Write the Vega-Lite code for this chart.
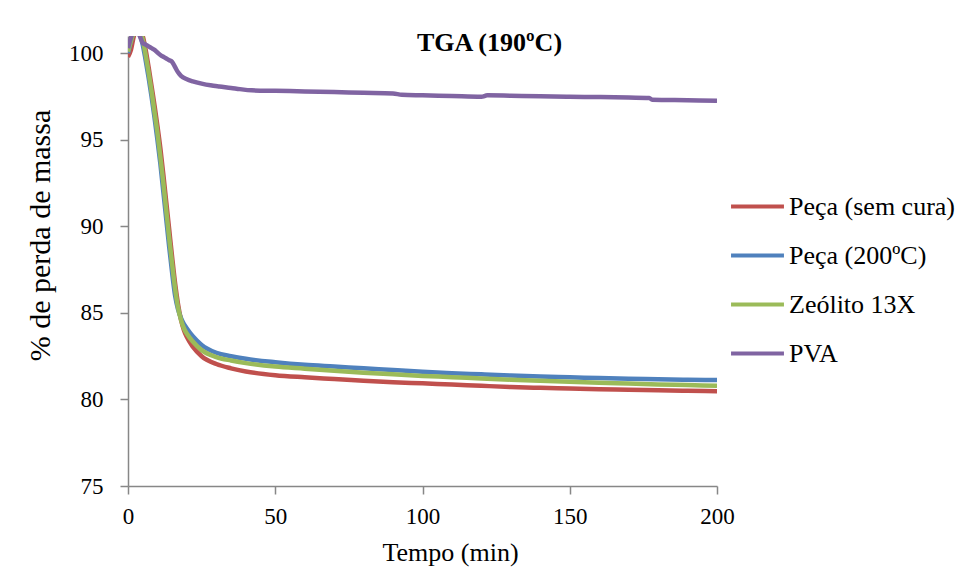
{
  "$schema": "https://vega.github.io/schema/vega-lite/v6.json",
  "autosize": {"type": "none"},
  "padding": {"left": 128, "top": 36, "right": 243, "bottom": 93},
  "width": 589,
  "height": 450,
  "background": "white",
  "config": {
    "font": "Liberation Serif",
    "view": {"stroke": null},
    "axis": {"grid": false, "labelFlush": false, "domainColor": "#878787", "domainWidth": 1.5, "tickColor": "#878787", "tickWidth": 1.5, "tickSize": 8, "labelFont": "Liberation Serif", "labelFontSize": 23, "labelColor": "black", "titleFont": "Liberation Serif", "titleFontSize": 26, "titleFontWeight": "normal", "titleColor": "black"},
    "legend": {"labelFont": "Liberation Serif"}
  },
  "title": {"text": "TGA (190ºC)", "font": "Liberation Serif", "fontSize": 26, "fontWeight": "bold", "color": "black", "anchor": "middle", "dx": 67, "offset": -20},
  "data": {"values": [
    {"s":"Peça (sem cura)","t":0,"v":99.8},{"s":"Peça (sem cura)","t":1,"v":100.2},{"s":"Peça (sem cura)","t":2,"v":101.0},{"s":"Peça (sem cura)","t":3,"v":101.4},{"s":"Peça (sem cura)","t":4,"v":101.4},{"s":"Peça (sem cura)","t":5,"v":101.0},{"s":"Peça (sem cura)","t":6,"v":100.2},{"s":"Peça (sem cura)","t":7,"v":99.2},{"s":"Peça (sem cura)","t":8,"v":98.1},{"s":"Peça (sem cura)","t":9,"v":97.0},{"s":"Peça (sem cura)","t":10,"v":95.8},{"s":"Peça (sem cura)","t":11,"v":94.5},{"s":"Peça (sem cura)","t":12,"v":93.0},{"s":"Peça (sem cura)","t":13,"v":91.4},{"s":"Peça (sem cura)","t":14,"v":89.8},{"s":"Peça (sem cura)","t":15,"v":88.2},{"s":"Peça (sem cura)","t":16,"v":86.7},{"s":"Peça (sem cura)","t":17,"v":85.5},{"s":"Peça (sem cura)","t":18,"v":84.6},{"s":"Peça (sem cura)","t":19,"v":84.0},{"s":"Peça (sem cura)","t":20,"v":83.6},{"s":"Peça (sem cura)","t":22,"v":83.05},{"s":"Peça (sem cura)","t":25,"v":82.5},{"s":"Peça (sem cura)","t":30,"v":82.05},{"s":"Peça (sem cura)","t":35,"v":81.8},{"s":"Peça (sem cura)","t":40,"v":81.62},{"s":"Peça (sem cura)","t":50,"v":81.4},{"s":"Peça (sem cura)","t":60,"v":81.28},{"s":"Peça (sem cura)","t":70,"v":81.18},{"s":"Peça (sem cura)","t":80,"v":81.08},{"s":"Peça (sem cura)","t":90,"v":81.0},{"s":"Peça (sem cura)","t":100,"v":80.93},{"s":"Peça (sem cura)","t":110,"v":80.86},{"s":"Peça (sem cura)","t":120,"v":80.79},{"s":"Peça (sem cura)","t":130,"v":80.72},{"s":"Peça (sem cura)","t":140,"v":80.67},{"s":"Peça (sem cura)","t":150,"v":80.63},{"s":"Peça (sem cura)","t":160,"v":80.59},{"s":"Peça (sem cura)","t":170,"v":80.56},{"s":"Peça (sem cura)","t":180,"v":80.53},{"s":"Peça (sem cura)","t":190,"v":80.5},{"s":"Peça (sem cura)","t":200,"v":80.48},
    {"s":"Peça (200ºC)","t":0,"v":100.0},{"s":"Peça (200ºC)","t":1,"v":100.7},{"s":"Peça (200ºC)","t":2,"v":101.2},{"s":"Peça (200ºC)","t":3,"v":101.3},{"s":"Peça (200ºC)","t":4,"v":101.1},{"s":"Peça (200ºC)","t":5,"v":100.5},{"s":"Peça (200ºC)","t":6,"v":99.6},{"s":"Peça (200ºC)","t":7,"v":98.6},{"s":"Peça (200ºC)","t":8,"v":97.5},{"s":"Peça (200ºC)","t":9,"v":96.3},{"s":"Peça (200ºC)","t":10,"v":95.0},{"s":"Peça (200ºC)","t":11,"v":93.6},{"s":"Peça (200ºC)","t":12,"v":92.0},{"s":"Peça (200ºC)","t":13,"v":90.4},{"s":"Peça (200ºC)","t":14,"v":88.8},{"s":"Peça (200ºC)","t":15,"v":87.3},{"s":"Peça (200ºC)","t":16,"v":86.0},{"s":"Peça (200ºC)","t":17,"v":85.2},{"s":"Peça (200ºC)","t":18,"v":84.7},{"s":"Peça (200ºC)","t":19,"v":84.35},{"s":"Peça (200ºC)","t":20,"v":84.1},{"s":"Peça (200ºC)","t":22,"v":83.65},{"s":"Peça (200ºC)","t":25,"v":83.15},{"s":"Peça (200ºC)","t":30,"v":82.7},{"s":"Peça (200ºC)","t":35,"v":82.5},{"s":"Peça (200ºC)","t":40,"v":82.35},{"s":"Peça (200ºC)","t":50,"v":82.15},{"s":"Peça (200ºC)","t":60,"v":82.0},{"s":"Peça (200ºC)","t":70,"v":81.9},{"s":"Peça (200ºC)","t":80,"v":81.8},{"s":"Peça (200ºC)","t":90,"v":81.7},{"s":"Peça (200ºC)","t":100,"v":81.6},{"s":"Peça (200ºC)","t":110,"v":81.52},{"s":"Peça (200ºC)","t":120,"v":81.45},{"s":"Peça (200ºC)","t":130,"v":81.38},{"s":"Peça (200ºC)","t":140,"v":81.32},{"s":"Peça (200ºC)","t":150,"v":81.28},{"s":"Peça (200ºC)","t":160,"v":81.24},{"s":"Peça (200ºC)","t":170,"v":81.2},{"s":"Peça (200ºC)","t":180,"v":81.17},{"s":"Peça (200ºC)","t":190,"v":81.14},{"s":"Peça (200ºC)","t":200,"v":81.12},
    {"s":"Zeólito 13X","t":0,"v":100.1},{"s":"Zeólito 13X","t":1,"v":100.7},{"s":"Zeólito 13X","t":2,"v":101.2},{"s":"Zeólito 13X","t":3,"v":101.4},{"s":"Zeólito 13X","t":4,"v":101.3},{"s":"Zeólito 13X","t":5,"v":100.8},{"s":"Zeólito 13X","t":6,"v":99.9},{"s":"Zeólito 13X","t":7,"v":98.9},{"s":"Zeólito 13X","t":8,"v":97.8},{"s":"Zeólito 13X","t":9,"v":96.6},{"s":"Zeólito 13X","t":10,"v":95.4},{"s":"Zeólito 13X","t":11,"v":94.0},{"s":"Zeólito 13X","t":12,"v":92.5},{"s":"Zeólito 13X","t":13,"v":90.9},{"s":"Zeólito 13X","t":14,"v":89.3},{"s":"Zeólito 13X","t":15,"v":87.8},{"s":"Zeólito 13X","t":16,"v":86.4},{"s":"Zeólito 13X","t":17,"v":85.3},{"s":"Zeólito 13X","t":18,"v":84.6},{"s":"Zeólito 13X","t":19,"v":84.1},{"s":"Zeólito 13X","t":20,"v":83.8},{"s":"Zeólito 13X","t":22,"v":83.35},{"s":"Zeólito 13X","t":25,"v":82.85},{"s":"Zeólito 13X","t":30,"v":82.45},{"s":"Zeólito 13X","t":35,"v":82.25},{"s":"Zeólito 13X","t":40,"v":82.1},{"s":"Zeólito 13X","t":50,"v":81.9},{"s":"Zeólito 13X","t":60,"v":81.78},{"s":"Zeólito 13X","t":70,"v":81.66},{"s":"Zeólito 13X","t":80,"v":81.55},{"s":"Zeólito 13X","t":90,"v":81.45},{"s":"Zeólito 13X","t":100,"v":81.36},{"s":"Zeólito 13X","t":110,"v":81.29},{"s":"Zeólito 13X","t":120,"v":81.21},{"s":"Zeólito 13X","t":130,"v":81.14},{"s":"Zeólito 13X","t":140,"v":81.08},{"s":"Zeólito 13X","t":150,"v":81.03},{"s":"Zeólito 13X","t":160,"v":80.97},{"s":"Zeólito 13X","t":170,"v":80.92},{"s":"Zeólito 13X","t":180,"v":80.87},{"s":"Zeólito 13X","t":190,"v":80.83},{"s":"Zeólito 13X","t":200,"v":80.79},
    {"s":"PVA","t":0,"v":100.3},{"s":"PVA","t":1,"v":100.9},{"s":"PVA","t":2,"v":101.3},{"s":"PVA","t":3,"v":101.3},{"s":"PVA","t":4,"v":101.0},{"s":"PVA","t":5,"v":100.6},{"s":"PVA","t":6,"v":100.5},{"s":"PVA","t":7,"v":100.4},{"s":"PVA","t":8,"v":100.3},{"s":"PVA","t":9,"v":100.2},{"s":"PVA","t":10,"v":100.05},{"s":"PVA","t":11,"v":99.9},{"s":"PVA","t":12,"v":99.8},{"s":"PVA","t":13,"v":99.7},{"s":"PVA","t":14,"v":99.6},{"s":"PVA","t":15,"v":99.5},{"s":"PVA","t":16,"v":99.2},{"s":"PVA","t":17,"v":98.9},{"s":"PVA","t":18,"v":98.7},{"s":"PVA","t":20,"v":98.5},{"s":"PVA","t":22,"v":98.38},{"s":"PVA","t":25,"v":98.25},{"s":"PVA","t":28,"v":98.15},{"s":"PVA","t":31,"v":98.08},{"s":"PVA","t":35,"v":98.0},{"s":"PVA","t":38,"v":97.93},{"s":"PVA","t":42,"v":97.86},{"s":"PVA","t":50,"v":97.83},{"s":"PVA","t":60,"v":97.8},{"s":"PVA","t":70,"v":97.76},{"s":"PVA","t":80,"v":97.72},{"s":"PVA","t":90,"v":97.68},{"s":"PVA","t":93,"v":97.6},{"s":"PVA","t":100,"v":97.57},{"s":"PVA","t":110,"v":97.53},{"s":"PVA","t":120,"v":97.49},{"s":"PVA","t":122,"v":97.57},{"s":"PVA","t":130,"v":97.55},{"s":"PVA","t":140,"v":97.52},{"s":"PVA","t":150,"v":97.49},{"s":"PVA","t":160,"v":97.47},{"s":"PVA","t":170,"v":97.44},{"s":"PVA","t":177,"v":97.42},{"s":"PVA","t":178,"v":97.32},{"s":"PVA","t":190,"v":97.29},{"s":"PVA","t":200,"v":97.26}
  ]},
  "mark": {"type": "line", "strokeWidth": 4.5, "clip": true, "interpolate": "monotone"},
  "encoding": {
    "x": {"field": "t", "type": "quantitative", "scale": {"domain": [0, 200], "nice": false}, "axis": {"values": [0, 50, 100, 150, 200], "title": "Tempo (min)", "titleX": 322, "titlePadding": 11, "labelPadding": 11}},
    "y": {"field": "v", "type": "quantitative", "scale": {"domain": [75, 101], "nice": false, "zero": false}, "axis": {"values": [75, 80, 85, 90, 95, 100], "title": "% de perda de massa", "titleFontSize": 30, "titleX": -73, "titleY": 199, "labelPadding": 17}},
    "color": {"field": "s", "type": "nominal", "sort": ["Peça (sem cura)", "Peça (200ºC)", "Zeólito 13X", "PVA"], "scale": {"domain": ["Peça (sem cura)", "Peça (200ºC)", "Zeólito 13X", "PVA"], "range": ["#C0504D", "#4F81BD", "#9BBB59", "#8064A2"]},
      "legend": {"title": null, "orient": "none", "legendX": 601, "legendY": 142, "symbolType": "stroke", "symbolSize": 2800, "symbolStrokeWidth": 4, "labelFont": "Liberation Serif", "labelFontSize": 26, "labelColor": "black", "rowPadding": 7, "labelOffset": 3, "labelLimit": 300}}
  }
}
